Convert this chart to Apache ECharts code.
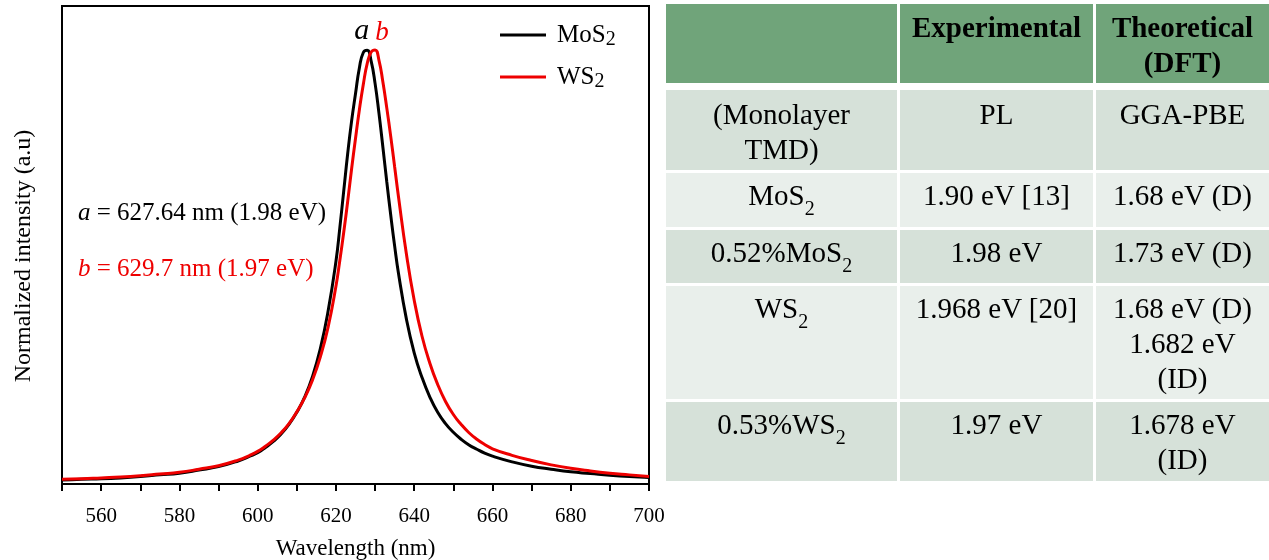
<!DOCTYPE html>
<html>
<head>
<meta charset="utf-8">
<script src="https://cdn.jsdelivr.net/npm/echarts@6/dist/echarts.min.js"></script>
<style>
  html, body { margin: 0; padding: 0; background: #fff; }
  #main { position: absolute; left: 0; top: 0; width: 1269px; height: 560px; }
  #tbl {
    position: absolute; left: 666px; top: 4px; width: 603px;
    display: grid;
    grid-template-columns: 231px 193px 173px;
    grid-template-rows: 79px 84px 54px 53px 113px 79px;
    column-gap: 3px; row-gap: 3px;
    font-family: "Liberation Serif", "DejaVu Serif", serif;
    font-size: 29px; line-height: 35px; color: #000;
  }
  #tbl div { text-align: center; padding-top: 5px; box-sizing: border-box; }
  #tbl .hd { background: #70a47a; font-weight: bold; padding-top: 6px; }
  #tbl .dk { background: #d6e1d9; }
  #tbl .lt { background: #e9efeb; }
  #tbl .r1 { margin-top: 4px; padding-top: 7px; }
  #tbl sub { font-size: 20px; vertical-align: -10px; line-height: 0; }
</style>
</head>
<body>
<div id="main"></div>
<div id="tbl"></div>
<script>
// wavelength samples (nm)
var wavelength = [550,555,560,565,570,575,580,585,590,595,598,
  600,602,604,606,608,610,612,614,616,618,
  620,621,622,623,624,625,626,627,628,629,630,631,632,633,634,635,636,
  638,640,642,644,646,648,650,652,654,656,658,660,
  665,670,675,680,685,690,695,700];
// normalized PL intensity, MoS2
var mos2 = [0.009,0.011,0.012,0.014,0.017,0.021,0.025,0.032,0.040,0.053,0.064,
  0.072,0.084,0.098,0.115,0.137,0.165,0.200,0.247,0.311,0.398,
  0.512,0.590,0.675,0.760,0.835,0.898,0.958,0.993,0.998,0.973,0.922,0.853,0.775,0.695,0.619,0.548,0.484,
  0.380,0.302,0.245,0.200,0.165,0.139,0.119,0.103,0.090,0.080,0.071,0.064,
  0.051,0.041,0.034,0.028,0.024,0.020,0.017,0.015];
// normalized PL intensity, WS2
var ws2 = [0.011,0.012,0.014,0.016,0.019,0.023,0.027,0.034,0.042,0.055,0.066,
  0.075,0.087,0.101,0.118,0.139,0.166,0.198,0.239,0.292,0.361,
  0.455,0.515,0.580,0.650,0.725,0.795,0.862,0.920,0.968,0.994,0.999,0.975,0.925,0.865,0.800,0.730,0.660,
  0.530,0.423,0.340,0.278,0.229,0.190,0.160,0.137,0.118,0.103,0.091,0.081,
  0.066,0.054,0.044,0.036,0.030,0.025,0.021,0.017];
var seriesNames = ['MoS2', 'WS2'];
var peakA = 627.64, peakB = 629.7;

// table on the right
var tableHeader = ['', 'Experimental', 'Theoretical<br>(DFT)'];
var tableRows = [
  ['(Monolayer<br>TMD)', 'PL', 'GGA-PBE'],
  ['MoS<sub>2</sub>', '1.90 eV [13]', '1.68 eV (D)'],
  ['0.52%MoS<sub>2</sub>', '1.98 eV', '1.73 eV (D)'],
  ['WS<sub>2</sub>', '1.968 eV [20]', '1.68 eV (D)<br>1.682 eV<br>(ID)'],
  ['0.53%WS<sub>2</sub>', '1.97 eV', '1.678 eV<br>(ID)']
];

var serif = '"Liberation Serif", "DejaVu Serif", serif';
var red = '#ee0000';

function buildTable() {
  var html = '';
  tableHeader.forEach(function (h) { html += '<div class="hd">' + h + '</div>'; });
  tableRows.forEach(function (row, i) {
    var cls = (i % 2 === 0 ? 'dk' : 'lt') + (i === 0 ? ' r1' : '');
    row.forEach(function (c) { html += '<div class="' + cls + '">' + c + '</div>'; });
  });
  document.getElementById('tbl').innerHTML = html;
}
buildTable();

function pairs(ys) {
  return wavelength.map(function (x, i) { return [x, ys[i]]; });
}

var chart = echarts.init(document.getElementById('main'));

var peakLabel = function (txt, color, dx, size) {
  return {
    symbol: 'circle', symbolSize: 1,
    itemStyle: { color: 'rgba(0,0,0,0)' },
    label: {
      show: true, position: 'top', distance: 3, offset: [dx, 0],
      formatter: txt, color: color, fontFamily: serif,
      fontStyle: 'italic', fontSize: size
    }
  };
};

var option = {
  animation: false,
  backgroundColor: '#fff',
  grid: {
    left: 62, top: 6, width: 587, height: 478, outerBoundsMode: 'none',
    show: true, borderColor: '#000', borderWidth: 2, backgroundColor: 'transparent'
  },
  legend: {
    orient: 'vertical', left: 495, top: 12, itemGap: 9,
    itemWidth: 46, itemHeight: 3, icon: 'rect',
    data: seriesNames,
    formatter: function (n) { return '{n|' + n.slice(0, -1) + '}{s|2}'; },
    textStyle: {
      color: '#000', fontFamily: serif, fontSize: 25,
      rich: {
        n: { fontFamily: serif, fontSize: 25, color: '#000', lineHeight: 30, padding: [0, 0, 0, 6] },
        s: { fontFamily: serif, fontSize: 20, color: '#000', lineHeight: 30, verticalAlign: 'bottom', padding: [13, 0, 0, 0] }
      }
    }
  },
  xAxis: {
    type: 'value', min: 550, max: 700, interval: 10,
    name: 'Wavelength (nm)', nameLocation: 'middle', nameGap: 53,
    nameTextStyle: { color: '#000', fontFamily: serif, fontSize: 23 },
    axisLine: { show: true, lineStyle: { color: '#000', width: 2 } },
    axisTick: { show: true, length: 7, lineStyle: { color: '#000', width: 2 } },
    axisLabel: {
      color: '#000', fontFamily: serif, fontSize: 21, margin: 22,
      formatter: function (v) { return v % 20 === 0 ? String(v) : ''; }
    },
    splitLine: { show: false }
  },
  yAxis: {
    type: 'value', min: 0, max: 1.1,
    name: 'Normalized intensity (a.u)', nameLocation: 'middle', nameGap: 26,
    nameTextStyle: { color: '#000', fontFamily: serif, fontSize: 24, padding: [0, 22, 0, 0] },
    axisLine: { show: true, lineStyle: { color: '#000', width: 2 } },
    axisTick: { show: false }, axisLabel: { show: false }, splitLine: { show: false }
  },
  series: [
    {
      name: seriesNames[0], type: 'line', smooth: true, showSymbol: false,
      data: pairs(mos2), color: '#000',
      lineStyle: { color: '#000', width: 3 },
      markPoint: Object.assign(peakLabel('a', '#000', -4, 30), { data: [{ coord: [peakA, 1] }] })
    },
    {
      name: seriesNames[1], type: 'line', smooth: true, showSymbol: false,
      data: pairs(ws2), color: red,
      lineStyle: { color: red, width: 3 },
      markPoint: Object.assign(peakLabel('b', red, 8, 27), { data: [{ coord: [peakB, 1] }] })
    }
  ],
  graphic: [
    {
      type: 'text', left: 78, top: 201,
      style: {
        text: '{i|a} = 627.64 nm (1.98 eV)',
        font: '25px ' + serif, fill: '#000',
        rich: { i: { fontStyle: 'italic', fontSize: 25, fontFamily: serif, fill: '#000' } }
      }
    },
    {
      type: 'text', left: 78, top: 257,
      style: {
        text: '{i|b} = 629.7 nm (1.97 eV)',
        font: '25px ' + serif, fill: red,
        rich: { i: { fontStyle: 'italic', fontSize: 25, fontFamily: serif, fill: red } }
      }
    }
  ]
};

chart.setOption(option);
</script>
</body>
</html>
